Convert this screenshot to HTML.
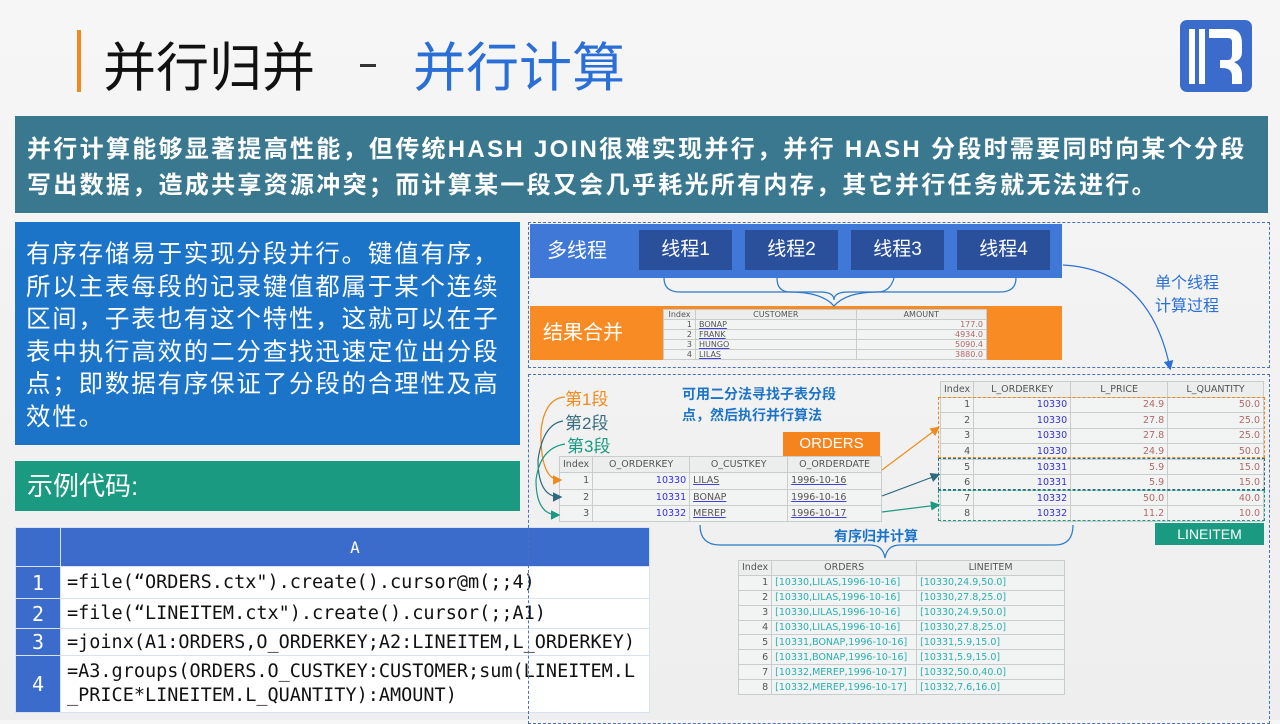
<!DOCTYPE html>
<html><head><meta charset="utf-8"><style>
*{margin:0;padding:0;box-sizing:border-box}
body{width:1280px;height:720px;overflow:hidden;position:relative;background:linear-gradient(180deg,#f6f6f6,#eeeeee);font-family:"Liberation Sans","Noto Sans CJK SC",sans-serif}
.a{position:absolute}
.cn{font-family:"Liberation Sans","Noto Sans CJK SC",sans-serif}
table{border-collapse:collapse;position:absolute;background:#f2f3f3;font-family:"DejaVu Sans",sans-serif;font-size:9.5px;color:#555}
td{border:1px solid #c9cccc;padding:0 3px;white-space:nowrap;overflow:hidden}
tr.h td{text-align:center;background:#eceeee;color:#555}
.r{text-align:right}.b{color:#3030e0}.p{color:#b06a6a}.u{text-decoration:underline;text-decoration-color:#4040e0}
.c{color:#29b0b0}
.code td{border:1px solid #d9e2f2;font-family:"DejaVu Sans Mono",monospace;font-size:18.5px;color:#111;background:#fff;padding:0 6px}
.code td.n{background:#3c6ccb;color:#fff;text-align:center;font-size:20px;padding:0}
</style></head><body>
<div class="a" style="left:77px;top:30px;width:4px;height:62px;background:#f08a1c"></div>
<div class="a cn" style="left:103px;top:26px;font-size:53px;color:#111">并行归并</div>
<div class="a" style="left:360px;top:64px;width:16px;height:3px;background:#333"></div>
<div class="a cn" style="left:413px;top:26px;font-size:53px;color:#2a6fd6">并行计算</div>
<svg class="a" style="left:1180px;top:20px" width="72" height="72" viewBox="0 0 72 72">
<rect width="72" height="72" rx="7" fill="#3c6ccb"/>
<rect x="9" y="9" width="6" height="55" fill="#fff"/><rect x="19" y="9" width="6" height="55" fill="#fff"/>
<path d="M29 9 H50 Q62 9 62 24 V32 Q62 40 54 42 Q62 46 62 55 V64 H52 V56 Q52 48 42 48 H40 V40 H48 Q52 40 52 34 V22 Q52 18 48 18 H29 Z" fill="#fff"/>
</svg>
<div class="a cn" style="left:15px;top:116px;width:1253px;height:97px;background:#3a7890;color:#fff;font-size:24px;font-weight:bold;line-height:36px;padding:16px 0 0 12px;letter-spacing:2.3px;white-space:nowrap">并行计算能够显著提高性能，但传统HASH JOIN很难实现并行，并行 HASH 分段时需要同时向某个分段<br>写出数据，造成共享资源冲突；而计算某一段又会几乎耗光所有内存，其它并行任务就无法进行。</div>
<div class="a cn" style="left:15px;top:222px;width:505px;height:223px;background:#1c74c9;color:#fff;font-size:24.5px;line-height:32.5px;padding:17px 4px 0 11px;letter-spacing:1.8px">有序存储易于实现分段并行。键值有序，所以主表每段的记录键值都属于某个连续区间，子表也有这个特性，这就可以在子表中执行高效的二分查找迅速定位出分段点；即数据有序保证了分段的合理性及高效性。</div>
<div class="a cn" style="left:15px;top:461px;width:505px;height:50px;background:#1a9a80;color:#fff;font-size:26px;line-height:50px;padding-left:12px">示例代码:</div>
<table class="code" style="left:15px;top:527px;width:635px;height:185px">
<tr style="height:39px"><td class="n" style="width:45px"></td><td class="n" style="font-size:16px">A</td></tr>
<tr style="height:32px"><td class="n">1</td><td>=file(“ORDERS.ctx").create().cursor@m(;;4)</td></tr>
<tr style="height:30px"><td class="n">2</td><td>=file(“LINEITEM.ctx").create().cursor(;;A1)</td></tr>
<tr style="height:27px"><td class="n">3</td><td>=joinx(A1:ORDERS,O_ORDERKEY;A2:LINEITEM,L_ORDERKEY)</td></tr>
<tr style="height:57px"><td class="n">4</td><td style="white-space:normal;line-height:24px;word-break:break-all">=A3.groups(ORDERS.O_CUSTKEY:CUSTOMER;sum(LINEITEM.L_PRICE*LINEITEM.L_QUANTITY):AMOUNT)</td></tr>
</table>
<div class="a" style="left:528px;top:222px;width:742px;height:146px;border:1px dashed #4a70c0"></div>
<div class="a" style="left:528px;top:374px;width:742px;height:350px;border:1px dashed #4a70c0"></div>
<div class="a cn" style="left:530px;top:224px;width:532px;height:54px;background:#3f78d6;color:#fff;font-size:20px;line-height:54px;padding-left:17px">多线程</div>
<div class="a cn" style="left:639px;top:230px;width:93px;height:40px;background:#2a4f9b;color:#fff;font-size:19px;text-align:center;line-height:40px">线程1</div>
<div class="a cn" style="left:745px;top:230px;width:93px;height:40px;background:#2a4f9b;color:#fff;font-size:19px;text-align:center;line-height:40px">线程2</div>
<div class="a cn" style="left:851px;top:230px;width:93px;height:40px;background:#2a4f9b;color:#fff;font-size:19px;text-align:center;line-height:40px">线程3</div>
<div class="a cn" style="left:957px;top:230px;width:93px;height:40px;background:#2a4f9b;color:#fff;font-size:19px;text-align:center;line-height:40px">线程4</div>
<div class="a cn" style="left:530px;top:306px;width:532px;height:54px;background:#f98b24;color:#fff;font-size:20px;line-height:54px;padding-left:13px">结果合并</div>
<table style="left:663px;top:309px;width:324px;height:50px;font-size:8px">
<tr class="h"><td style="width:32px">Index</td><td>CUSTOMER</td><td>AMOUNT</td></tr>
<tr><td class="r">1</td><td class="u">BONAP</td><td class="r p">177.0</td></tr>
<tr><td class="r">2</td><td class="u">FRANK</td><td class="r p">4934.0</td></tr>
<tr><td class="r">3</td><td class="u">HUNGO</td><td class="r p">5090.4</td></tr>
<tr><td class="r">4</td><td class="u">LILAS</td><td class="r p">3880.0</td></tr>
</table>
<div class="a cn" style="left:1155px;top:272px;font-size:16px;color:#2a6fd6;line-height:23px">单个线程<br>计算过程</div>
<div class="a cn" style="left:565px;top:385px;font-size:17px;color:#f08a1c">第1段</div>
<div class="a cn" style="left:565px;top:409px;font-size:17px;color:#3a6f80">第2段</div>
<div class="a cn" style="left:567px;top:432px;font-size:17px;color:#1a9a80">第3段</div>
<div class="a cn" style="left:682px;top:384px;font-size:14px;font-weight:bold;color:#1c74c9;line-height:21px">可用二分法寻找子表分段<br>点，然后执行并行算法</div>
<div class="a cn" style="left:783px;top:432px;width:97px;height:24px;background:#f5841f;color:#fff;font-size:15px;text-align:center;line-height:24px">ORDERS</div>
<table style="left:559px;top:456px;width:323px;height:66px">
<tr class="h"><td style="width:31px">Index</td><td style="width:97px">O_ORDERKEY</td><td style="width:98px">O_CUSTKEY</td><td>O_ORDERDATE</td></tr>
<tr><td class="r">1</td><td class="r b">10330</td><td class="u">LILAS</td><td class="u">1996-10-16</td></tr>
<tr><td class="r">2</td><td class="r b">10331</td><td class="u">BONAP</td><td class="u">1996-10-16</td></tr>
<tr><td class="r">3</td><td class="r b">10332</td><td class="u">MEREP</td><td class="u">1996-10-17</td></tr>
</table>
<table style="left:940px;top:381px;width:324px;height:141px">
<tr class="h"><td style="width:32px">Index</td><td style="width:97px">L_ORDERKEY</td><td style="width:97px">L_PRICE</td><td>L_QUANTITY</td></tr>
<tr><td class="r">1</td><td class="r b">10330</td><td class="r p">24.9</td><td class="r p">50.0</td></tr>
<tr><td class="r">2</td><td class="r b">10330</td><td class="r p">27.8</td><td class="r p">25.0</td></tr>
<tr><td class="r">3</td><td class="r b">10330</td><td class="r p">27.8</td><td class="r p">25.0</td></tr>
<tr><td class="r">4</td><td class="r b">10330</td><td class="r p">24.9</td><td class="r p">50.0</td></tr>
<tr><td class="r">5</td><td class="r b">10331</td><td class="r p">5.9</td><td class="r p">15.0</td></tr>
<tr><td class="r">6</td><td class="r b">10331</td><td class="r p">5.9</td><td class="r p">15.0</td></tr>
<tr><td class="r">7</td><td class="r b">10332</td><td class="r p">50.0</td><td class="r p">40.0</td></tr>
<tr><td class="r">8</td><td class="r b">10332</td><td class="r p">11.2</td><td class="r p">10.0</td></tr>
</table>
<div class="a" style="left:938px;top:397px;width:327px;height:61px;border:1px dashed #f08a1c"></div>
<div class="a" style="left:938px;top:458px;width:327px;height:32px;border:1px dashed #2f6a80"></div>
<div class="a" style="left:938px;top:490px;width:327px;height:31px;border:1px dashed #1a9a80"></div>
<div class="a cn" style="left:1155px;top:523px;width:109px;height:22px;background:#1a9a80;color:#fff;font-size:14px;text-align:center;line-height:22px">LINEITEM</div>
<div class="a cn" style="left:834px;top:526px;font-size:14px;font-weight:bold;color:#1c74c9">有序归并计算</div>
<table style="left:738px;top:560px;width:327px;height:135px">
<tr class="h"><td style="width:33px">Index</td><td style="width:145px">ORDERS</td><td>LINEITEM</td></tr>
<tr><td class="r">1</td><td class="c">[10330,LILAS,1996-10-16]</td><td class="c">[10330,24.9,50.0]</td></tr>
<tr><td class="r">2</td><td class="c">[10330,LILAS,1996-10-16]</td><td class="c">[10330,27.8,25.0]</td></tr>
<tr><td class="r">3</td><td class="c">[10330,LILAS,1996-10-16]</td><td class="c">[10330,24.9,50.0]</td></tr>
<tr><td class="r">4</td><td class="c">[10330,LILAS,1996-10-16]</td><td class="c">[10330,27.8,25.0]</td></tr>
<tr><td class="r">5</td><td class="c">[10331,BONAP,1996-10-16]</td><td class="c">[10331,5.9,15.0]</td></tr>
<tr><td class="r">6</td><td class="c">[10331,BONAP,1996-10-16]</td><td class="c">[10331,5.9,15.0]</td></tr>
<tr><td class="r">7</td><td class="c">[10332,MEREP,1996-10-17]</td><td class="c">[10332,50.0,40.0]</td></tr>
<tr><td class="r">8</td><td class="c">[10332,MEREP,1996-10-17]</td><td class="c">[10332,7.6,16.0]</td></tr>
</table>
<svg class="a" style="left:0;top:0" width="1280" height="720" fill="none">
<defs>
<marker id="mo" markerWidth="8" markerHeight="8" refX="6" refY="4" orient="auto"><path d="M0 0L8 4L0 8Z" fill="#f08a1c"/></marker>
<marker id="mt" markerWidth="8" markerHeight="8" refX="6" refY="4" orient="auto"><path d="M0 0L8 4L0 8Z" fill="#2f6a80"/></marker>
<marker id="mg" markerWidth="8" markerHeight="8" refX="6" refY="4" orient="auto"><path d="M0 0L8 4L0 8Z" fill="#1a9a80"/></marker>
<marker id="mb" markerWidth="8" markerHeight="8" refX="6" refY="4" orient="auto"><path d="M0 0L8 4L0 8Z" fill="#2a6fd6"/></marker>
</defs>
<g stroke="#2a7ac8" stroke-width="1.2">
<path d="M664 278 Q664 292 680 292 L820 292 Q834 292 834 300 Q834 292 848 292 L1000 292 Q1016 292 1016 278"/>
<path d="M777 278 Q777 292 790 292 Q822 292 834 306 Q846 292 878 292 Q890 292 894 278"/>
<path d="M1063 265 Q1150 270 1170 368" stroke="#2a6fd6" marker-end="url(#mb)"/>
<path d="M700 525 Q700 545 720 545 L870 545 Q883 545 885 558 Q887 545 900 545 L1055 545 Q1073 545 1073 525"/>
</g>
<path d="M565 397 Q545 398 541 430 Q540 480 560 480" stroke="#f08a1c" stroke-width="1.2" marker-end="url(#mo)"/>
<path d="M563 421 Q543 424 538 460 Q538 497 560 497" stroke="#2f6a80" stroke-width="1.2" marker-end="url(#mt)"/>
<path d="M565 444 Q540 448 536 480 Q536 515 558 515" stroke="#1a9a80" stroke-width="1.2" marker-end="url(#mg)"/>
<path d="M882 470 L938 428" stroke="#f08a1c" stroke-width="1.2" marker-end="url(#mo)"/>
<path d="M882 496 L938 475" stroke="#2f6a80" stroke-width="1.2" marker-end="url(#mt)"/>
<path d="M882 512 L938 505" stroke="#1a9a80" stroke-width="1.2" marker-end="url(#mg)"/>
</svg>
</body></html>
